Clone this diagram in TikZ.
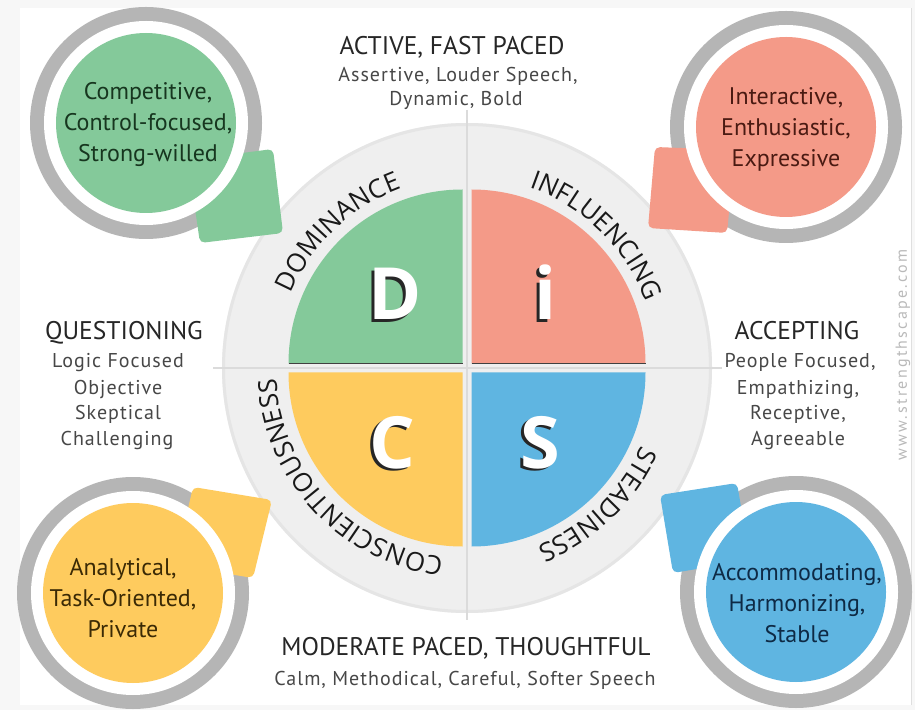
\documentclass[tikz,border=0pt]{standalone}
\usepackage{fontspec}
\setmainfont{Open Sans}
\newfontfamily\ptsans{PT Sans}
\newfontfamily\ptsansls{PT Sans}[LetterSpace=5]
\newfontfamily\opensans{Open Sans}
\usetikzlibrary{decorations.text}
\definecolor{dgreen}{HTML}{84C99A}
\definecolor{dred}{HTML}{F49A88}
\definecolor{dyellow}{HTML}{FECB5E}
\definecolor{dblue}{HTML}{5FB5E1}
\definecolor{ringgray}{HTML}{B5B5B5}
\definecolor{discbg}{HTML}{EFEFEF}
\definecolor{tgreen}{HTML}{17361F}
\definecolor{tred}{HTML}{4A1A12}
\definecolor{tyellow}{HTML}{3B2A05}
\definecolor{tblue}{HTML}{0E2A45}
\newcommand\curvelbl{\opensans\fontsize{26}{26}\selectfont}
\newcommand\arclabel[3]{%
  \begin{scope}[shift={(467,342)}]
  \path[decorate, decoration={text along path, text={|\curvelbl\color{black!90}|#1}, text align={fit to path}}]
    (#2:191) arc[start angle=#2, end angle=#3, radius=191];
  \end{scope}}
\newcommand\cornercircle[4]{% x, y, color, tab path
  \fill[ringgray] (#1,#2) circle[radius=116];
  \fill[#3] #4 ;
  \fill[white] (#1,#2) circle[radius=102];
  \fill[#3] (#1,#2) circle[radius=90];}
\begin{document}
\begin{tikzpicture}[x=1pt,y=1pt,
  cornertxt/.style={align=center, font=\ptsans\fontsize{24}{31}\selectfont, inner sep=0},
  ttl/.style={font=\ptsans\fontsize{25.5}{25.5}\selectfont, text=black!85, anchor=base, inner sep=0},
  body/.style={font=\ptsansls\fontsize{20}{20}\selectfont, text=black!72, anchor=base, inner sep=0},
  bigl/.style={font=\opensans\bfseries\fontsize{72}{72}\selectfont, anchor=base, inner sep=0},
  tabshape/.style={rounded corners=5pt}]
\useasboundingbox (0,0) rectangle (915,710);
% background card
\fill[gray!6] (0,0) rectangle (915,710);
\fill[white] (20,5) rectangle (911,702);
\draw[gray!25, line width=1] (911.5,5) -- (911.5,702);
% DISC disc
\fill[discbg] (467,342) circle[radius=245];
\draw[gray!20, line width=3] (467,342) circle[radius=243.5];
\draw[gray!28, line width=1.5] (467,600) -- (467,90);
\draw[gray!28, line width=1.5] (213,342) -- (722,342);
% quadrants
\fill[dgreen] (462.5,346.5) -- ++(-174,0) arc[start angle=180, end angle=90, radius=174] -- cycle;
\fill[dred] (471.5,346.5) -- ++(0,174) arc[start angle=90, end angle=0, radius=174] -- cycle;
\fill[dyellow] (462.5,337.5) -- ++(-174,0) arc[start angle=180, end angle=270, radius=174] -- cycle;
\fill[dblue] (471.5,337.5) -- ++(174,0) arc[start angle=0, end angle=-90, radius=174] -- cycle;
\draw[black!75, line width=1.6] (288.5,346.5) -- (462.5,346.5);
\draw[black!75, line width=1.6] (471.5,346.5) -- (645.5,346.5);
% big letters with shadow
\foreach \n/\x/\y/\t in {D/395/390/D, I/545/390/i, C/392/242/C, S/540/242/S}{
  \node[bigl, text=black!85] (sh\n) at (\x-2.5,\y-2.5) {\t};
  \node[bigl, text=white] (let\n) at (\x,\y) {\t};
}
% curved labels
\arclabel{DOMINANCE}{157}{110}
\arclabel{INFLUENCING}{71}{21}
\arclabel{STEADINESS}{-24}{-68}
\arclabel{CONSCIENTIOUSNESS}{-97}{-175}
% corner circles with tabs
\cornercircle{146}{587}{dgreen}{[tabshape] (200,467) -- (283,477) -- (273,561) -- (188,550) -- cycle}
\cornercircle{786}{583}{dred}{[tabshape] (655,563) -- (648,482) -- (727,477) -- (735,560) -- cycle}
\cornercircle{133}{117}{dyellow}{[tabshape] (193,223) -- (272,210) -- (253,132) -- (175,145) -- cycle}
\cornercircle{796}{118}{dblue}{[tabshape] (660,215) -- (737,227) -- (750,150) -- (673,137) -- cycle}
\node[cornertxt, text=tgreen] (gtxt) at (148,585) {Competitive,\\Control-focused,\\Strong-willed};
\node[cornertxt, text=tred] (rtxt) at (786,581) {Interactive,\\Enthusiastic,\\Expressive};
\node[cornertxt, text=tyellow] (ytxt) at (123,112) {Analytical,\\Task-Oriented,\\Private};
\node[cornertxt, text=tblue] (btxt) at (797,107) {Accommodating,\\Harmonizing,\\Stable};
% top text
\node[ttl] (top) at (452,655) {ACTIVE, FAST PACED};
\node[body] (top1) at (458,628) {Assertive, Louder Speech,};
\node[body] (top2) at (456,604) {Dynamic, Bold};
% left text
\node[ttl] (left) at (124,370) {QUESTIONING};
\node[body] (left1) at (118,342) {Logic Focused};
\node[body] (left2) at (118,315) {Objective};
\node[body] (left3) at (118,290) {Skeptical};
\node[body] (left4) at (117,265) {Challenging};
% right text
\node[ttl] (right) at (797,370) {ACCEPTING};
\node[body] (right1) at (800,342) {People Focused,};
\node[body] (right2) at (798,315) {Empathizing,};
\node[body] (right3) at (798,290) {Receptive,};
\node[body] (right4) at (798,265) {Agreeable};
% bottom text
\node[ttl] (bot) at (466,55) {MODERATE PACED, THOUGHTFUL};
\node[body] (bot1) at (465,25) {Calm, Methodical, Careful, Softer Speech};
% watermark
\node[font=\ptsans\fontsize{16}{16}\selectfont\addfontfeature{LetterSpace=14}, text=gray!55, rotate=90, inner sep=0] (wm) at (903,355) {www.strengthscape.com};
\end{tikzpicture}
\end{document}
